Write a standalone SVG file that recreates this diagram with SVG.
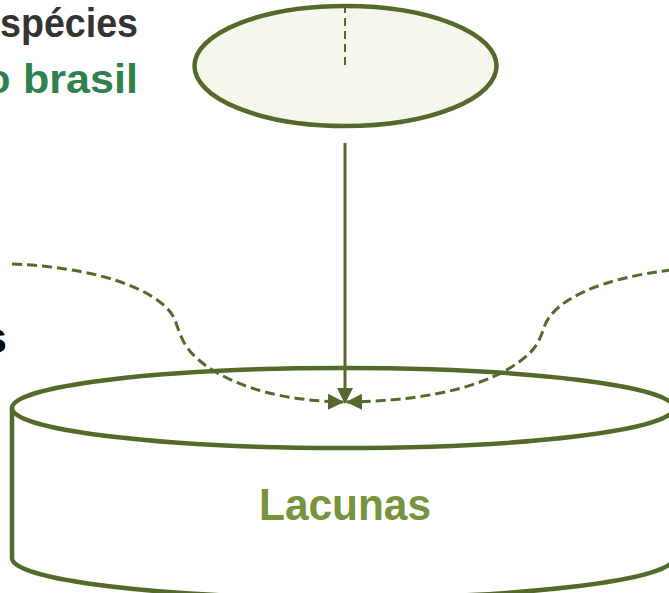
<svg xmlns="http://www.w3.org/2000/svg" width="669" height="593" viewBox="0 0 669 593">
<style>
.shape{stroke:#546A2B;stroke-width:4.5;}
.conn{fill:none;stroke:#546A2B;stroke-width:3;}
.dash{stroke-dasharray:10,5;}
.lbl{font-family:"Liberation Sans",Arial,sans-serif;font-weight:bold;}
</style>
<defs>
<marker id="ah" markerUnits="userSpaceOnUse" markerWidth="16" markerHeight="16" viewBox="0 0 16 16" refX="15" refY="8" orient="auto">
<path d="M0,0 L16,8 L0,16 Z" fill="#546A2B"/>
</marker>
</defs>
<rect width="669" height="593" fill="#ffffff"/>
<g id="title">
<text class="lbl" x="0" y="37" font-size="40" fill="#333333" textLength="138" lengthAdjust="spacingAndGlyphs">spécies</text>
<text class="lbl" y="93" font-size="40" fill="#31814F"><tspan x="-14">o</tspan><tspan x="23" textLength="115" lengthAdjust="spacingAndGlyphs">brasil</tspan></text>
<text class="lbl" x="7" y="353" font-size="44" fill="#000000" text-anchor="end">s</text>
</g>
<g id="lacunas">
<path class="shape" d="M12,408 L12,558 A331,40 0 0 0 674,558 L674,408" fill="#ffffff"/>
<ellipse class="shape" cx="343" cy="408" rx="331" ry="40" fill="#ffffff"/>
<text class="lbl" x="345" y="520" font-size="44" fill="#77933C" text-anchor="middle" textLength="172" lengthAdjust="spacingAndGlyphs">Lacunas</text>
</g>
<g id="top-node">
<ellipse class="shape" cx="345.5" cy="66" rx="151" ry="60" fill="#F5F7EF"/>
<line x1="345" y1="5" x2="345" y2="68" stroke="#546A2B" stroke-width="2" stroke-dasharray="8,5"/>
</g>
<g id="connectors">
<line class="conn" x1="345" y1="143" x2="345" y2="403" marker-end="url(#ah)"/>
<path class="conn dash" d="M12,264 C110,268 165,295 175,320 C182,340 185,350 205,365 C240,390 290,401 343,402" marker-end="url(#ah)"/>
<path class="conn dash" d="M672,270 C600,278 555,300 545,325 C538,345 535,352 510,368 C470,392 410,401 347,402" marker-end="url(#ah)"/>
</g>
</svg>
